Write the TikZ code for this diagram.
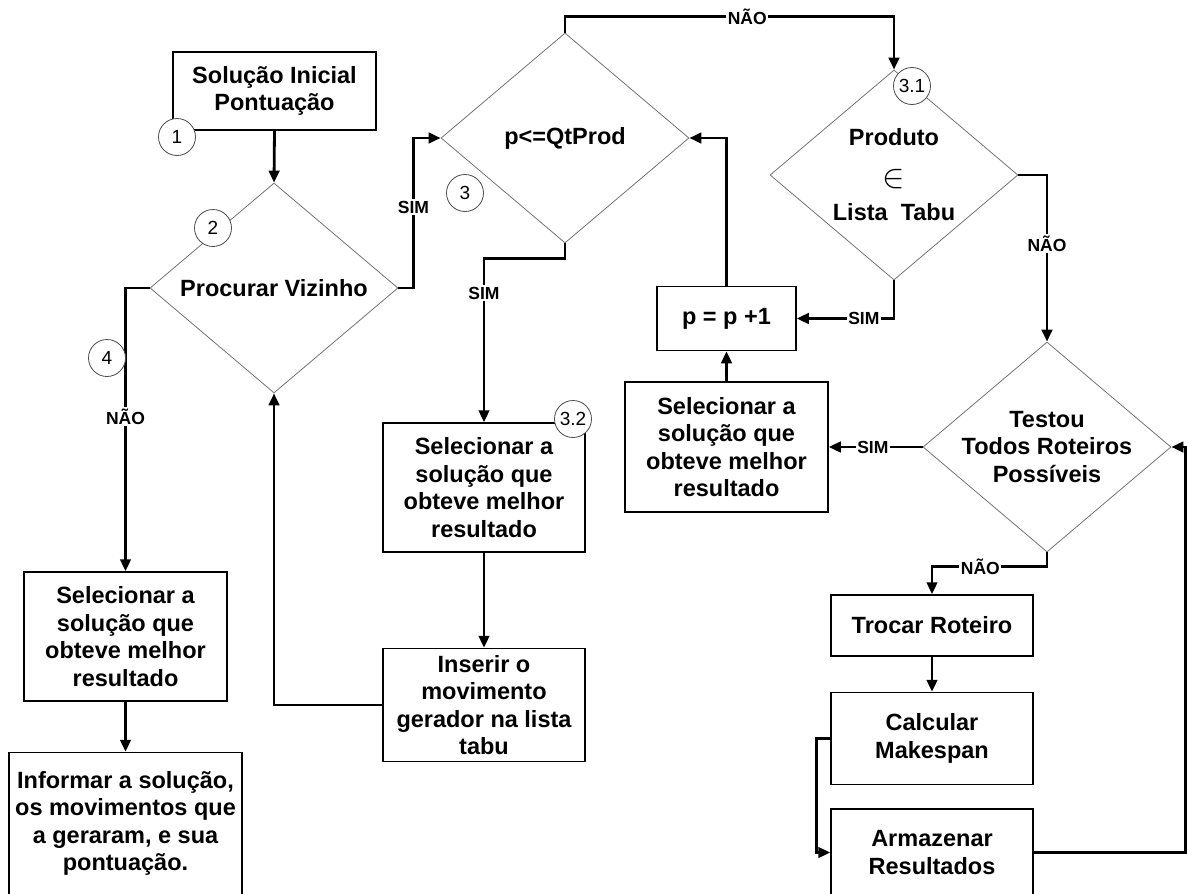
\documentclass[tikz,border=0pt]{standalone}
\usepackage{graphicx}
\usepackage{fontspec}
\setmainfont{Liberation Sans}
\usetikzlibrary{shapes.geometric,arrows.meta,positioning}
\newcommand{\boxfont}{\bfseries\fontsize{23.5}{27.5}\selectfont}
\newcommand{\lblfont}{\bfseries\fontsize{17.5}{19}\selectfont}
\newcommand{\numfont}{\fontsize{19}{20}\selectfont}

\begin{document}
\begin{tikzpicture}[x=1pt, y=-1pt,
    proc/.style={draw, rectangle, line width=1.5pt, fill=white, align=center, font=\boxfont, inner sep=2pt},
    decision/.style={draw=black!55, diamond, line width=0.8pt, align=center, font=\boxfont, minimum width=248pt, minimum height=210pt, aspect=1.18, inner sep=-10pt},
    flow/.style={line width=2.8pt, -{Triangle[length=12pt,width=10.5pt]}},
    lbl/.style={fill=white, inner sep=1.5pt, font=\lblfont},
    stepnum/.style={draw=black!70, circle, fill=white, line width=0.8pt, minimum size=37pt, inner sep=0pt, font=\numfont}
  ]
    \useasboundingbox (0,0) rectangle (1187,894);

    \node[proc, minimum width=203pt, minimum height=78pt] (start) at (274.5,91) {Solução Inicial\\Pontuação};
    \node[decision] (viz) at (274,288) {Procurar Vizinho};
    \node[decision] (qt) at (565,138) {p<=QtProd};
    \node[decision] (tabu) at (894,175) {Produto\\[14pt]\scalebox{1.35}{$\in$}\\[6pt]Lista\ \ Tabu};
    \node[decision] (testou) at (1047,447) {Testou\\Todos Roteiros\\Possíveis};

    \node[proc, minimum width=203pt, minimum height=130pt] (selR) at (726.5,447) {Selecionar a\\solução que\\obteve melhor\\resultado};
    \node[proc, minimum width=139pt, minimum height=64pt, above=30pt of selR] (inc) {p = p +1};

    \node[proc, minimum width=202pt, minimum height=61pt] (troca) at (932,625.5) {Trocar Roteiro};
    \node[proc, minimum width=202pt, minimum height=92pt, below=35pt of troca] (calc) {Calcular\\Makespan};
    \node[proc, minimum width=202pt, minimum height=87pt, below=23pt of calc] (arm) {Armazenar\\Resultados};

    \node[proc, minimum width=202pt, minimum height=129pt] (selM) at (484,487.5) {Selecionar a\\solução que\\obteve melhor\\resultado};
    \node[proc, minimum width=202pt, minimum height=113pt, below=95pt of selM] (ins) {Inserir o\\movimento\\gerador na lista\\tabu};

    \node[proc, minimum width=203pt, minimum height=129pt] (selL) at (125.5,636.5) {Selecionar a\\solução que\\obteve melhor\\resultado};
    \node[proc, minimum width=233pt, minimum height=142pt, below=50pt of selL] (info) {Informar a solução,\\os movimentos que\\a geraram, e sua\\pontuação.};

    % fluxo principal
    \draw[flow] (start.south) -- (viz.north);
    \draw[flow] (viz.east) -- ++(15,0) |- node[lbl, pos=0.27]{SIM} (qt.west);
    \draw[flow] (viz.west) -| node[lbl, pos=0.727]{NÃO} (selL.north);
    \draw[flow] (selL.south) -- (info.north);
    \draw[flow] (qt.north) -- ++(0,-16) -| node[lbl, pos=0.277]{NÃO} (tabu.north);
    \draw[flow] (qt.south) -- ++(0,15) -| node[lbl, pos=0.606]{SIM} (selM.north);
    \draw[flow] (selM.south) -- (ins.north);
    \draw[flow] (ins.west) -| (viz.south);

    % laco dos produtos
    \draw[flow] (tabu.south) |- node[lbl, pos=0.655]{SIM} (inc.east);
    \draw[flow] (tabu.east) -| node[lbl, pos=0.705]{NÃO} (testou.north);
    \draw[flow] (inc.north) |- (qt.east);
    \draw[flow] (selR.north) -- (inc.south);
    \draw[flow] (testou.west) -- node[lbl, pos=0.53]{SIM} (selR.east);
    \draw[flow] (testou.south) -- ++(0,14) -| node[lbl, pos=0.29]{NÃO} (troca.north);
    \draw[flow] (troca.south) -- (calc.north);
    \draw[flow] (calc.west) -- ++(-14,0) |- (arm.west);
    \draw[flow] (arm.east) -- ++(152,0) |- (testou.east);

    \node[stepnum] (n1) at (177,137) {1};
    \node[stepnum] (n2) at (213,228) {2};
    \node[stepnum] (n3) at (465,193) {3};
    \node[stepnum] (n31) at (912,86) {3.1};
    \node[stepnum] (n32) at (573,419) {3.2};
    \node[stepnum] (n4) at (107,358) {4};

  \end{tikzpicture}
\end{document}
